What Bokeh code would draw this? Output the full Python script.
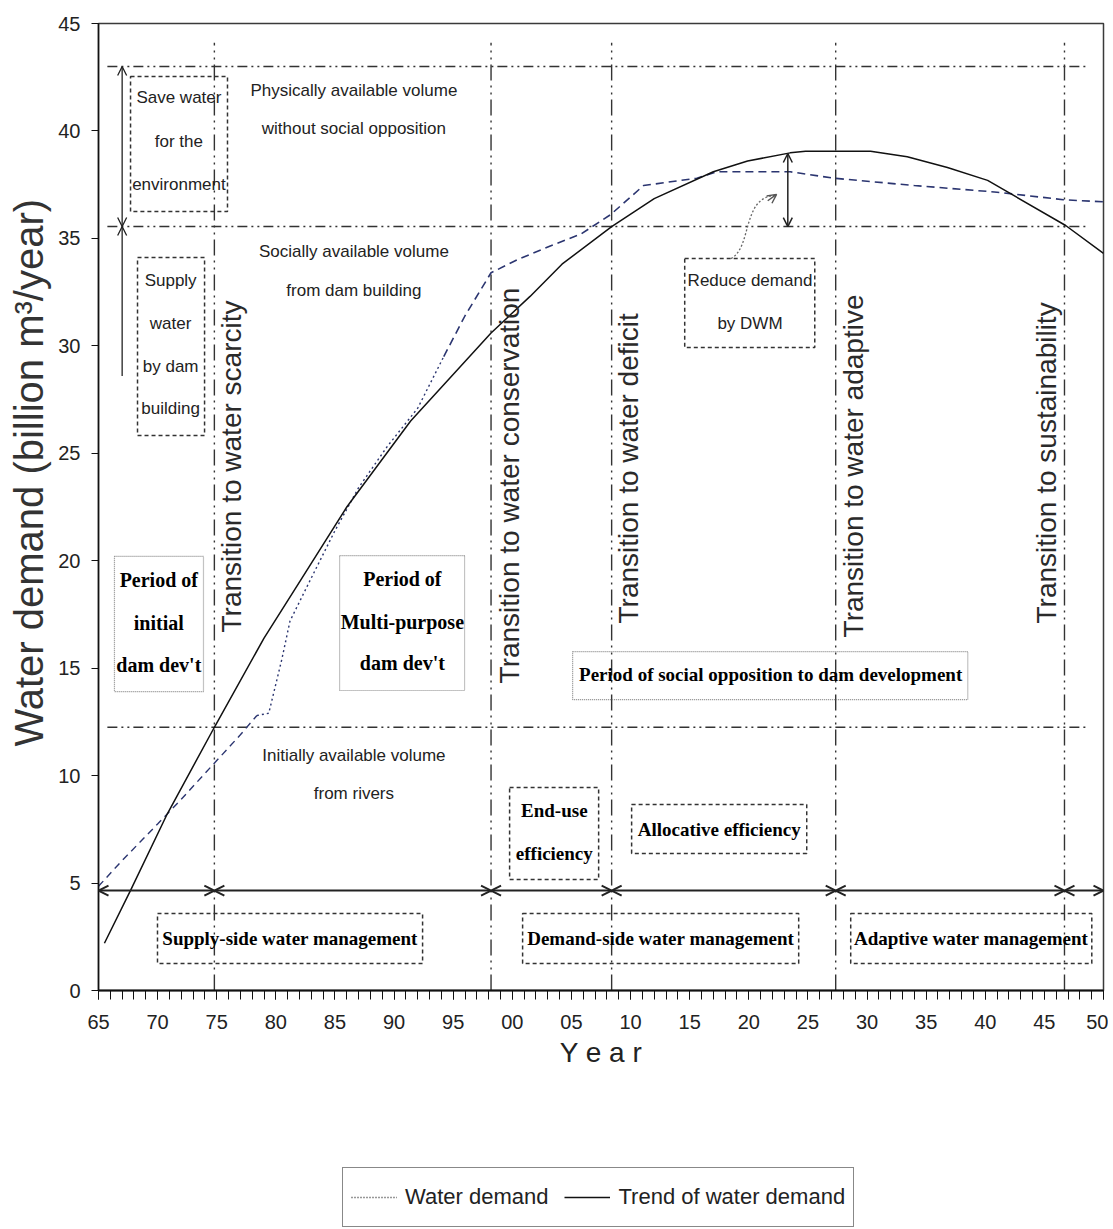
import math
from bokeh.plotting import figure
from bokeh.layouts import column, row
from bokeh.models import Label, Arrow, OpenHead, Legend, LegendItem, FixedTicker, Range1d
from bokeh.embed import file_html
from bokeh.resources import INLINE

# ---------------- data ----------------
wd_year = [1965, 1967, 1970, 1972, 1975, 1977, 1978.4, 1979.4, 1980.5, 1981.2, 1983, 1985, 1987,
           1989.4, 1992, 1994.2, 1996, 1998.2, 2000.4, 2003, 2005.8, 2008.3, 2011.1, 2015.6,
           2017.3, 2023.5, 2027.2, 2034, 2041, 2046.6, 2050]
wd_val = [4.85, 6.05, 7.75, 8.9, 10.7, 11.9, 12.8, 12.9, 15.4, 17.2, 19.2, 21.4, 23.4,
          25.3, 27.1, 29.5, 31.4, 33.4, 34.0, 34.6, 35.2, 36.1, 37.46, 37.8,
          38.1, 38.1, 37.8, 37.46, 37.15, 36.8, 36.7]

tr_year = [1965.5, 1967.7, 1970.8, 1974.8, 1979.0, 1982.1, 1986.0, 1991.4, 1998.2, 2001.5,
           2004.2, 2008.4, 2012.0, 2017.0, 2019.9, 2023.5, 2024.8, 2030.3, 2033.4, 2036.8,
           2040.2, 2042.4, 2046.8, 2050]
tr_val = [2.2, 4.65, 8.2, 12.25, 16.4, 19.1, 22.5, 26.5, 30.6, 32.3,
          33.8, 35.55, 36.85, 38.1, 38.6, 38.98, 39.05, 39.05, 38.8, 38.3,
          37.7, 37.0, 35.6, 34.3]

volume_levels = [43.0, 35.55, 12.25]
volume_labels = [["Physically available volume", "without social opposition"],
                 ["Socially available volume", "from dam building"],
                 ["Initially available volume", "from rivers"]]

transition_years = [1974.8, 1998.2, 2008.4, 2027.35, 2046.7]
transition_labels = ["Transition to water scarcity", "Transition to water conservation",
                     "Transition to water deficit", "Transition to water adaptive",
                     "Transition to sustainability"]

x_major = list(range(1965, 2051, 5))
x_minor = list(range(1965, 2051))
x_tick_labels = ["65", "70", "75", "80", "85", "90", "95", "00", "05", "10",
                 "15", "20", "25", "30", "35", "40", "45", "50"]
y_ticks = [0, 5, 10, 15, 20, 25, 30, 35, 40, 45]

management_labels = ["Supply-side water management", "Demand-side water management",
                     "Adaptive water management"]
legend_labels = ["Water demand", "Trend of water demand"]

# ---------------- styling ----------------
SANS = "Liberation Sans"
SERIF = "Liberation Serif"
INK = "#222222"
DEMAND_COLOR = "#2b3570"

LABEL_W = 55
MAIN_H = 1158
LEG_H = 70

p = figure(width=1108 - LABEL_W, height=MAIN_H, x_range=(1965, 2050), y_range=(0, 45),
           output_backend="svg", toolbar_location=None,
           min_border_left=98 - LABEL_W, min_border_right=5, min_border_top=23,
           min_border_bottom=MAIN_H - 990)
p.grid.visible = False
p.outline_line_color = "#3a3a3a"
p.outline_line_width = 1.5

xa = p.xaxis[0]
xa.ticker = FixedTicker(ticks=x_major, minor_ticks=x_minor)
xa.major_label_overrides = dict(zip(x_major, x_tick_labels))
xa.major_tick_out = 9
xa.major_tick_in = 0
xa.minor_tick_out = 9
xa.minor_tick_in = 0
xa.axis_line_width = 2
xa.axis_line_color = "#111111"
xa.major_tick_line_color = "#111111"
xa.minor_tick_line_color = "#111111"
xa.major_label_text_font = SANS
xa.major_label_text_font_size = "20px"
xa.major_label_text_color = INK
xa.major_label_standoff = 15
xa.axis_label = "Y e a r"
xa.axis_label_text_font = SANS
xa.axis_label_text_font_size = "28px"
xa.axis_label_text_font_style = "normal"
xa.axis_label_text_color = INK
xa.axis_label_standoff = 5

ya = p.yaxis[0]
ya.ticker = FixedTicker(ticks=y_ticks, minor_ticks=[])
ya.major_tick_out = 7
ya.major_tick_in = 0
ya.minor_tick_out = 0
ya.minor_tick_in = 0
ya.axis_line_width = 1.5
ya.axis_line_color = "#111111"
ya.major_tick_line_color = "#111111"
ya.major_label_text_font = SANS
ya.major_label_text_font_size = "20px"
ya.major_label_text_color = INK
ya.major_label_standoff = 11

# ---------------- reference lines ----------------
p.segment(x0=[1965.75] * len(volume_levels), y0=volume_levels,
          x1=[2048.5] * len(volume_levels), y1=volume_levels,
          line_color="#333333", line_width=1.6, line_dash="10 4 2 4 2 4")
p.segment(x0=transition_years, y0=[0] * len(transition_years),
          x1=transition_years, y1=[44.1] * len(transition_years),
          line_color="#333333", line_width=1.4, line_dash="16 5 2 5 2 5")

# ---------------- curves ----------------
i_a = wd_year.index(1978.4)
i_b = wd_year.index(1994.2)
p.line(wd_year[:i_a + 1], wd_val[:i_a + 1], line_color=DEMAND_COLOR, line_width=1.4, line_dash="7 5")
p.line(wd_year[i_a:i_b + 1], wd_val[i_a:i_b + 1], line_color=DEMAND_COLOR, line_width=1.4,
       line_dash="2 3")
p.line(wd_year[i_b:], wd_val[i_b:], line_color=DEMAND_COLOR, line_width=1.6, line_dash="8 5")
p.line(tr_year, tr_val, line_color="#111111", line_width=1.5)

# ---------------- arrows ----------------
def arrow(x0, y0, x1, y1, both=True, size=10, width=1.5, color="#222222"):
    kw = dict(x_start=x0, y_start=y0, x_end=x1, y_end=y1, line_color=color, line_width=width,
              end=OpenHead(size=size, line_color=color, line_width=width))
    kw["start"] = OpenHead(size=size, line_color=color, line_width=width) if both else None
    p.add_layout(Arrow(**kw))

bounds = [1965] + transition_years + [2050]
for a, b in zip(bounds[:-1], bounds[1:]):
    arrow(a, 4.65, b, 4.65, width=2)

arrow(1967.0, volume_levels[0], 1967.0, volume_levels[1], width=1.3, size=9)
arrow(1967.0, 28.6, 1967.0, volume_levels[1], both=False, width=1.3, size=9)
arrow(2023.3, volume_levels[1], 2023.3, 38.95, width=1.5, size=9)

# curly dotted arrow from the "Reduce demand" box
p.bezier(x0=2018.5, y0=34.06, x1=2022.2, y1=37.0, cx0=2020.3, cy0=34.6, cx1=2019.4, cy1=36.9,
         line_color="#666666", line_width=1.3, line_dash="2 2")
arrow(2021.6, 36.75, 2022.35, 37.05, both=False, size=9, width=1.4, color="#555555")

# ---------------- boxes & texts ----------------
def box(l, r, b, t, dash="4 3", color="#333333", width=1.5):
    p.quad(left=[l], right=[r], bottom=[b], top=[t], fill_alpha=0, line_color=color,
           line_width=width, line_dash=dash)

def lines(x, ys, texts, font=SANS, size="17px", style="normal", color=INK):
    for y, t in zip(ys, texts):
        p.add_layout(Label(x=x, y=y, text=t, text_align="center", text_baseline="middle",
                           text_font=font, text_font_size=size, text_font_style=style,
                           text_color=color))

def bold(x, ys, texts, size="19px"):
    lines(x, ys, texts, font=SERIF, size=size, style="bold", color="#000000")

box(1967.71, 1975.91, 36.25, 42.53)
lines(1971.8, [41.55, 39.51, 37.51], ["Save water", "for the", "environment"])
box(1968.3, 1973.97, 25.83, 34.11)
lines(1971.1, [33.04, 31.04, 29.04, 27.08], ["Supply", "water", "by dam", "building"])

lines(1986.6, [41.88, 40.11], volume_labels[0])
lines(1986.6, [34.39, 32.57], volume_labels[1])
lines(1986.6, [10.94, 9.17], volume_labels[2])

box(1966.35, 1973.88, 13.91, 20.2, dash="1 1", color="#888888", width=1.2)
bold(1970.1, [19.08, 17.12, 15.17], ["Period of", "initial", "dam dev't"], size="20px")
box(1985.39, 1995.96, 13.96, 20.24, dash="1 1", color="#888888", width=1.2)
bold(1990.7, [19.17, 17.17, 15.22], ["Period of", "Multi-purpose", "dam dev't"], size="20px")
box(2005.1, 2038.52, 13.54, 15.77, dash="1 1", color="#888888", width=1.2)
bold(2021.85, [14.7], ["Period of social opposition to dam development"])

box(1999.77, 2007.3, 5.17, 9.45)
bold(2003.55, [8.38, 6.38], ["End-use", "efficiency"])
box(2010.09, 2024.9, 6.38, 8.66)
bold(2017.5, [7.5], ["Allocative efficiency"])

box(1969.99, 1992.41, 1.26, 3.58)
box(2000.87, 2024.22, 1.26, 3.58)
box(2028.62, 2049.01, 1.26, 3.58)
bold(1981.2, [2.4], [management_labels[0]])
bold(2012.55, [2.4], [management_labels[1]])
bold(2038.8, [2.4], [management_labels[2]])

box(2014.58, 2025.58, 29.92, 34.06)
lines(2020.1, [33.04, 31.04], ["Reduce demand", "by DWM"])

trans_x = [1976.25, 1999.77, 2009.84, 2028.87, 2045.2]
trans_y = [16.66, 14.29, 17.08, 16.43, 17.08]
for x, y, t in zip(trans_x, trans_y, transition_labels):
    p.add_layout(Label(x=x, y=y, text=t, angle=math.pi / 2, text_align="left",
                       text_baseline="middle", text_font=SANS, text_font_size="28px",
                       text_color="#2a2a2a"))

# ---------------- y-axis title strip ----------------
lab = figure(width=LABEL_W, height=MAIN_H, x_range=Range1d(0, LABEL_W), y_range=Range1d(0, MAIN_H),
             output_backend="svg", toolbar_location=None, x_axis_type=None, y_axis_type=None,
             min_border=0, min_border_left=0, min_border_right=0, min_border_top=0,
             min_border_bottom=0)
lab.grid.visible = False
lab.outline_line_color = None
lab.add_layout(Label(x=28, y=MAIN_H - 538, text="Water demand (billion m³/year)",
                     angle=math.pi / 2, text_align="center", text_baseline="middle",
                     text_font=SANS, text_font_size="40px", text_color="#333333"))

# ---------------- legend strip ----------------
leg = figure(width=1108, height=LEG_H, x_range=Range1d(0, 1108), y_range=Range1d(0, LEG_H),
             output_backend="svg", toolbar_location=None, x_axis_type=None, y_axis_type=None,
             min_border=0, min_border_left=0, min_border_right=0, min_border_top=0,
             min_border_bottom=0)
leg.grid.visible = False
leg.outline_line_color = None
# legend-only renderers (their points lie outside the visible range)
s_dot = leg.line(x=[-50, -40], y=[-50, -50], line_color="#333333", line_width=1.4, line_dash="1 2")
s_trend = leg.line(x=[-50, -40], y=[-50, -50], line_color="#111111", line_width=1.5)
legend = Legend(items=[LegendItem(label=legend_labels[0], renderers=[s_dot]),
                       LegendItem(label=legend_labels[1], renderers=[s_trend])],
                orientation="horizontal", location=(342, 1),
                label_text_font=SANS, label_text_font_size="22px", label_text_color=INK,
                glyph_width=46, glyph_height=42, label_standoff=8, spacing=16,
                padding=8, margin=0, border_line_color="#111111", border_line_width=1.5,
                background_fill_color="white", background_fill_alpha=1.0)
leg.add_layout(legend)

layout = column(row(lab, p), leg)
open("out.html", "w").write(file_html(layout, INLINE))
